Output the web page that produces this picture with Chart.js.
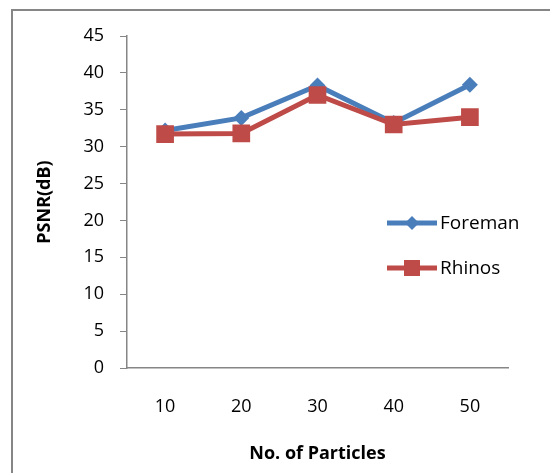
<!DOCTYPE html>
<html>
<head>
<meta charset="utf-8">
<script src="https://cdn.jsdelivr.net/npm/chart.js@4"></script>
<style>
  body { margin: 0; background: #fff; }
</style>
</head>
<body>
<canvas id="myChart" width="550" height="473"></canvas>
<script>
var categories = ['10', '20', '30', '40', '50'];
var foremanValues = [32.2, 33.9, 38.3, 33.2, 38.4];
var rhinosValues = [31.7, 31.8, 37.0, 33.0, 34.0];
var seriesNames = ['Foreman', 'Rhinos'];
var xTitle = 'No. of Particles';
var yTitle = 'PSNR(dB)';

var blue = '#4A7EBB';
var red = '#BE4B48';
var grey = '#868686';
var fontName = "'Open Sans', sans-serif";

// frame round the chart + the legend on the right
var extras = {
    id: 'extras',
    beforeDraw: function (chart) {
        var ctx = chart.ctx;
        ctx.save();
        ctx.fillStyle = '#fff';
        ctx.fillRect(0, 0, chart.width, chart.height);
        ctx.strokeStyle = grey;
        ctx.lineWidth = 2;
        ctx.beginPath();
        ctx.moveTo(12, chart.height + 5);
        ctx.lineTo(12, 10);
        ctx.lineTo(chart.width + 5, 10);
        ctx.stroke();
        ctx.restore();
    },
    afterDraw: function (chart) {
        var ctx = chart.ctx;
        var rows = [223, 268];
        ctx.save();
        chart.data.datasets.forEach(function (ds, i) {
            var y = rows[i];
            ctx.strokeStyle = ds.borderColor;
            ctx.lineWidth = 5;
            ctx.beginPath();
            ctx.moveTo(387, y);
            ctx.lineTo(437, y);
            ctx.stroke();
            ctx.fillStyle = ds.backgroundColor;
            if (ds.pointStyle === 'rect') {
                ctx.fillRect(404, y - 8, 16, 16);
            } else {
                ctx.beginPath();
                ctx.moveTo(412, y - 7);
                ctx.lineTo(419, y);
                ctx.lineTo(412, y + 7);
                ctx.lineTo(405, y);
                ctx.closePath();
                ctx.fill();
            }
            ctx.fillStyle = '#000';
            ctx.font = '19px ' + fontName;
            ctx.textBaseline = 'middle';
            ctx.textAlign = 'left';
            ctx.fillText(ds.label, 440, y + 1);
        });
        ctx.restore();
    }
};

new Chart('myChart', {
    type: 'line',
    data: {
        labels: categories,
        datasets: [{
            label: seriesNames[0],
            data: foremanValues,
            borderColor: blue,
            backgroundColor: blue,
            borderWidth: 5,
            pointStyle: 'rectRot',
            pointRadius: 8,
            pointBorderWidth: 0,
            order: 1
        }, {
            label: seriesNames[1],
            data: rhinosValues,
            borderColor: red,
            backgroundColor: red,
            borderWidth: 5,
            pointStyle: 'rect',
            pointRadius: 12.5,
            pointBorderWidth: 0,
            order: 0
        }]
    },
    options: {
        responsive: false,
        animation: false,
        events: [],
        layout: { padding: { left: 0, top: 36, right: 42, bottom: 0 } },
        plugins: {
            legend: { display: false },
            tooltip: { enabled: false }
        },
        scales: {
            x: {
                offset: true,
                afterFit: function (scale) { scale.height = 105; },
                grid: { display: true, drawOnChartArea: false, drawTicks: false, offset: true },
                border: { display: true, color: grey, width: 1.5 },
                ticks: { color: '#000', padding: 28, font: { family: fontName, size: 18 } },
                title: {
                    display: true,
                    text: xTitle,
                    color: '#000',
                    padding: { top: 0, bottom: 8 },
                    font: { family: fontName, size: 18, weight: 'bold' }
                }
            },
            y: {
                min: 0,
                max: 45,
                afterFit: function (scale) { scale.width = 127; },
                grid: { display: true, drawOnChartArea: false, drawTicks: true, tickLength: 7, color: grey },
                border: { display: true, color: grey, width: 1.5 },
                ticks: { stepSize: 5, color: '#000', padding: 16, font: { family: fontName, size: 18 } },
                title: {
                    display: true,
                    text: yTitle,
                    color: '#000',
                    padding: { top: 34, bottom: 0 },
                    font: { family: fontName, size: 18, weight: 'bold' }
                }
            }
        }
    },
    plugins: [extras]
});
</script>
</body>
</html>
